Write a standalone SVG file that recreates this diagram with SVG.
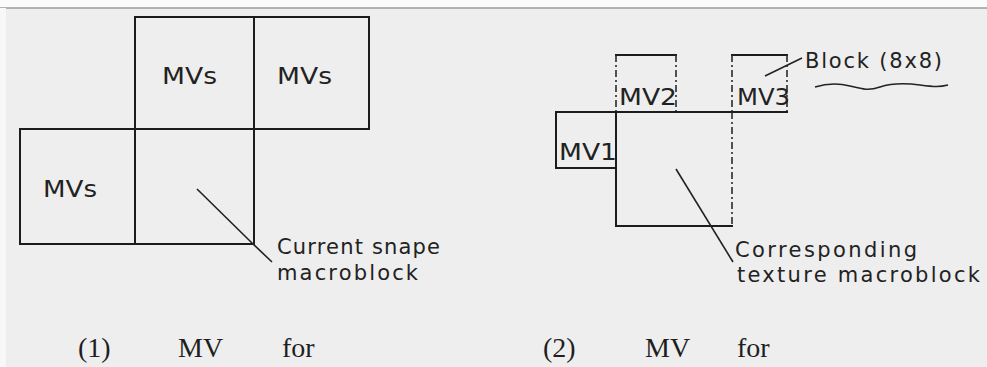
<svg xmlns="http://www.w3.org/2000/svg" width="987" height="367" viewBox="0 0 987 367">
<defs>
<style>
.ln{stroke:#1c1c1c;stroke-width:2;fill:none;stroke-linecap:square}
.thin{stroke:#222;stroke-width:1.6;fill:none}
.dash{stroke:#2a2a2a;stroke-width:1.6;fill:none;stroke-dasharray:7 3 2 3}
.lbl{font-family:"DejaVu Sans","Liberation Sans",sans-serif;font-size:21px;fill:#222}
.big{font-size:23px}
.cap{font-family:"Liberation Serif","Times New Roman",serif;font-size:28px;fill:#1e1e1e}
</style>
</defs>
<rect x="0" y="0" width="987" height="367" fill="#eeeeee"/>
<rect x="0" y="0" width="987" height="8" fill="#fbfbfb"/>
<line x1="0" y1="8" x2="987" y2="8" stroke="#9a9a9a" stroke-width="1.5"/>
<rect x="0" y="8" width="6" height="359" fill="#f8f8f8"/>

<g id="fig1">
<g id="cell-top-left"><rect class="ln" x="135" y="17" width="119" height="112"/><text class="lbl big" x="162" y="84" textLength="55" lengthAdjust="spacingAndGlyphs">MVs</text></g>
<g id="cell-top-right"><rect class="ln" x="254" y="17" width="115" height="112"/><text class="lbl big" x="277" y="84" textLength="55" lengthAdjust="spacingAndGlyphs">MVs</text></g>
<g id="cell-left"><rect class="ln" x="20" y="129" width="115" height="115"/><text class="lbl big" x="43" y="197" textLength="54" lengthAdjust="spacingAndGlyphs">MVs</text></g>
<g id="current-shape-mb"><rect class="ln" x="135" y="129" width="119" height="115"/></g>
<g id="label-current"><text class="lbl" x="277" y="254" textLength="163" lengthAdjust="spacing">Current snape</text><text class="lbl" x="277" y="280" textLength="141" lengthAdjust="spacing">macroblock</text></g>
</g>

<g id="fig2">
<g id="block-mv2"><line class="ln" x1="616" y1="55" x2="676" y2="55"/><line class="dash" x1="616" y1="55" x2="616" y2="112"/><line class="dash" x1="676" y1="55" x2="676" y2="112"/><text class="lbl big" x="619" y="105" textLength="58" lengthAdjust="spacingAndGlyphs">MV2</text></g>
<g id="block-mv3"><line class="ln" x1="732" y1="55" x2="787" y2="55"/><line class="dash" x1="732" y1="55" x2="732" y2="112"/><line class="dash" x1="787" y1="55" x2="787" y2="112"/><text class="lbl big" x="737" y="105" textLength="53" lengthAdjust="spacingAndGlyphs">MV3</text></g>
<g id="block-mv1"><polyline class="ln" points="616,112 556,112 556,168 616,168"/><text class="lbl big" x="559" y="160" textLength="58" lengthAdjust="spacingAndGlyphs">MV1</text></g>
<g id="texture-mb"><polyline class="ln" points="556,112 787,112"/><polyline class="ln" points="616,112 616,226 732,226"/><line class="dash" x1="732" y1="112" x2="732" y2="226"/></g>
<g id="label-block"><text class="lbl" x="805" y="68" textLength="137" lengthAdjust="spacing">Block (8x8)</text><path class="thin" d="M815,87 C828,83 838,83 850,86 S868,91 880,87 S905,83 920,85 S940,87 948,85"/></g>
<g id="label-corr"><text class="lbl" x="735" y="257" textLength="182" lengthAdjust="spacing">Corresponding</text><text class="lbl" x="737" y="282" textLength="243" lengthAdjust="spacing">texture macroblock</text></g>
</g>

<g id="connectors">
<polyline class="thin" points="197,189 252,243 272,262"/>
<line class="thin" x1="676" y1="169" x2="733" y2="262"/>
<line class="thin" x1="765" y1="76" x2="802" y2="58"/>
</g>

<g id="captions">
<text class="cap" x="78" y="357">(1)</text>
<text class="cap" x="178" y="357">MV</text>
<text class="cap" x="282" y="357">for</text>
<text class="cap" x="543" y="357">(2)</text>
<text class="cap" x="645" y="357">MV</text>
<text class="cap" x="737" y="357">for</text>
</g>
</svg>
